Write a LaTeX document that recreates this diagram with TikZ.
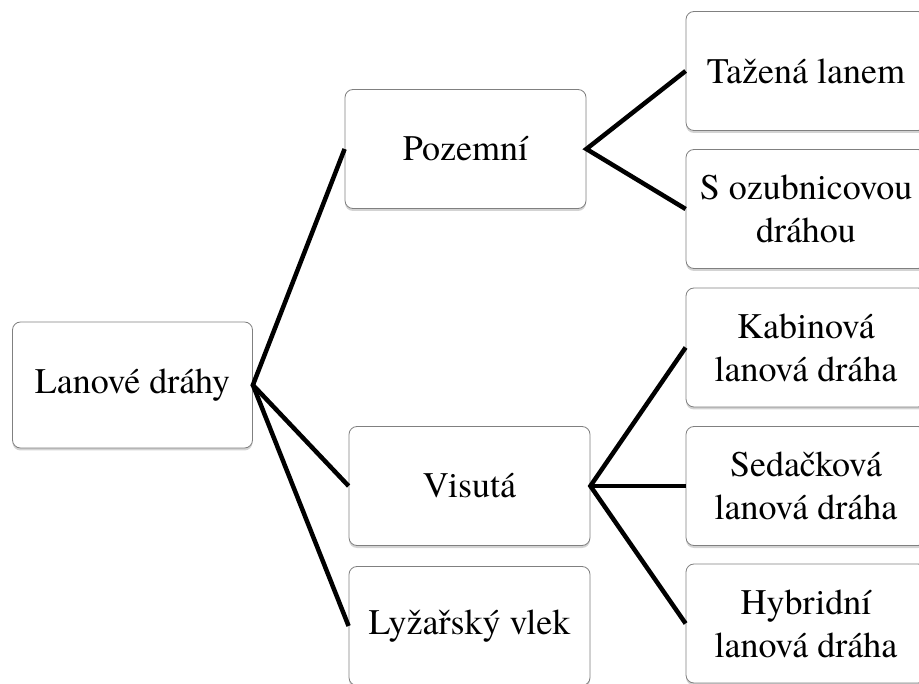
\documentclass[tikz,border=0pt]{standalone}
\usepackage{fontspec}
\setmainfont{texgyretermes-regular.otf}
\usetikzlibrary{shapes, shadows, positioning}

\begin{document}
\begin{tikzpicture}[x=1pt, y=-1pt,
    box/.style={draw=black!50, rectangle, rounded corners=8pt, fill=white, line width=0.8pt,
        minimum width=240pt, minimum height=119pt, align=center, inner sep=2pt,
        font=\fontsize{36}{43}\selectfont,
        drop shadow={shadow xshift=0pt, shadow yshift=-2.5pt, opacity=0.35}},
    link/.style={line width=4.5pt, line join=miter}]
  \useasboundingbox (0,0) rectangle (919,684);
  % root
  \node[box, minimum height=126pt] (lanove) at (132.5,385) {Lanové dráhy};
  % second level
  \node[box, minimum width=241pt] (pozemni) at (465.5,149) {Pozemní};
  \node[box, minimum width=241pt] (visuta) at (469.5,486) {Visutá};
  \node[box, minimum width=241pt] (vlek) at (469.5,626) {Lyžařský vlek};
  % third level
  \node[box] (tazena) at (806,71) {Tažená lanem};
  \node[box] (ozub) at (806,209) {S ozubnicovou\\dráhou};
  \node[box] (kabina) at (806,347.5) {Kabinová\\lanová dráha};
  \node[box] (sedacka) at (806,486) {Sedačková\\lanová dráha};
  \node[box] (hybrid) at (806,623.5) {Hybridní\\lanová dráha};
  % connectors
  \draw[link] (pozemni.west) -- (lanove.east) -- (visuta.west);
  \draw[link] (lanove.east) -- (vlek.west);
  \draw[link] (tazena.west) -- (pozemni.east) -- (ozub.west);
  \draw[link] (kabina.west) -- (visuta.east) -- (hybrid.west);
  \draw[link] (visuta.east) -- (sedacka.west);
\end{tikzpicture}
\end{document}
